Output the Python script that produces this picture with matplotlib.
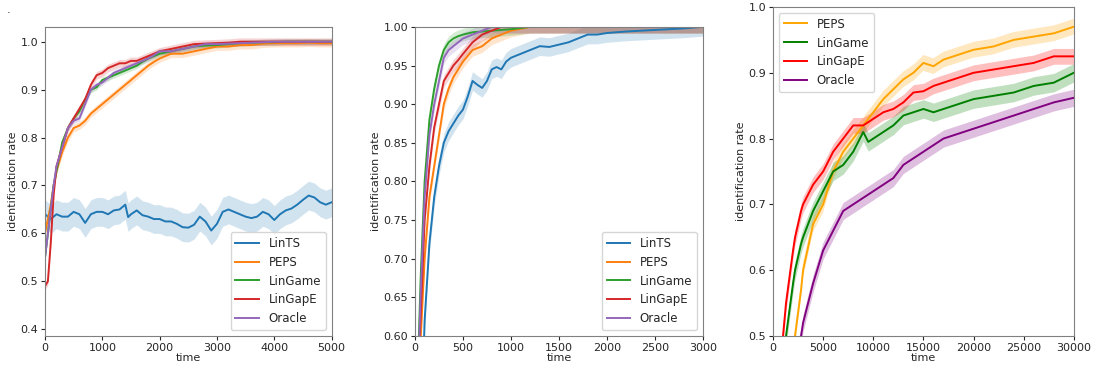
import matplotlib
matplotlib.use("Agg")
import matplotlib.pyplot as plt
import numpy as np

# ---- panel 1 (t up to 5000) ----
t1 = [0, 50, 100, 150, 200, 300, 400, 500, 600, 700, 800, 900, 1000, 1100, 1200, 1300, 1400,
      1500, 1600, 1700, 1800, 1900, 2000, 2200, 2400, 2600, 2800, 3000, 3200, 3400, 3600,
      3800, 4000, 4200, 4400, 4600, 4800, 5000]
peps1 = [0.60, 0.63, 0.66, 0.70, 0.73, 0.77, 0.80, 0.82, 0.825, 0.835, 0.85, 0.86, 0.87, 0.88,
         0.89, 0.90, 0.91, 0.92, 0.93, 0.94, 0.95, 0.958, 0.965, 0.975, 0.975, 0.98, 0.985,
         0.99, 0.99, 0.993, 0.993, 0.996, 0.997, 0.997, 0.997, 0.998, 0.997, 0.997]
lingame1 = [0.55, 0.60, 0.65, 0.70, 0.73, 0.79, 0.82, 0.84, 0.855, 0.88, 0.90, 0.905, 0.92,
            0.925, 0.93, 0.935, 0.94, 0.945, 0.95, 0.958, 0.965, 0.97, 0.975, 0.98, 0.985,
            0.99, 0.992, 0.993, 0.995, 0.997, 0.998, 0.999, 0.999, 1.0, 1.0, 1.0, 1.0, 1.0]
lingape1 = [0.49, 0.50, 0.58, 0.68, 0.74, 0.78, 0.82, 0.84, 0.86, 0.88, 0.91, 0.93, 0.935,
            0.945, 0.95, 0.955, 0.955, 0.96, 0.96, 0.965, 0.97, 0.975, 0.98, 0.985, 0.99,
            0.995, 0.996, 0.997, 0.998, 1.0, 1.0, 1.0, 1.0, 1.0, 1.0, 1.0, 1.0, 1.0]
oracle1 = [0.55, 0.60, 0.65, 0.70, 0.74, 0.78, 0.82, 0.835, 0.84, 0.87, 0.90, 0.91, 0.915,
           0.925, 0.935, 0.94, 0.945, 0.95, 0.955, 0.96, 0.965, 0.972, 0.98, 0.98, 0.985,
           0.99, 0.995, 0.995, 0.996, 0.997, 0.998, 0.999, 1.0, 1.0, 1.0, 1.0, 1.0, 1.0]
t1_ts = [0, 100, 200, 300, 400, 500, 600, 700, 800, 900, 1000, 1100, 1200, 1300, 1400, 1450,
         1500, 1600, 1700, 1800, 1900, 2000, 2100, 2200, 2300, 2400, 2500, 2600, 2700, 2800,
         2900, 3000, 3100, 3200, 3300, 3400, 3500, 3600, 3700, 3800, 3900, 4000, 4100, 4200,
         4300, 4400, 4500, 4600, 4700, 4800, 4900, 5000]
lints1 = [0.64, 0.63, 0.64, 0.635, 0.635, 0.645, 0.64, 0.622, 0.64, 0.645, 0.645, 0.64, 0.648,
          0.65, 0.66, 0.634, 0.64, 0.648, 0.638, 0.635, 0.63, 0.63, 0.625, 0.625, 0.62, 0.613,
          0.612, 0.618, 0.635, 0.625, 0.606, 0.62, 0.645, 0.65, 0.645, 0.64, 0.635, 0.632, 0.635,
          0.645, 0.64, 0.628, 0.64, 0.648, 0.652, 0.66, 0.67, 0.679, 0.675, 0.665, 0.66, 0.665]

# ---- panel 2 (t up to 3000) ----
t2_ts = [90, 100, 150, 200, 250, 300, 350, 400, 450, 500, 550, 600, 650, 700, 750, 800, 850,
         900, 950, 1000, 1100, 1200, 1300, 1400, 1500, 1600, 1700, 1800, 1900, 2000, 2200,
         2500, 2800, 3000]
lints2 = [0.58, 0.62, 0.72, 0.78, 0.82, 0.85, 0.865, 0.875, 0.885, 0.893, 0.91, 0.93, 0.925,
          0.921, 0.93, 0.945, 0.948, 0.945, 0.955, 0.96, 0.965, 0.97, 0.975, 0.974, 0.977, 0.98,
          0.985, 0.99, 0.99, 0.992, 0.994, 0.996, 0.998, 1.0]
t2 = [40, 50, 60, 100, 150, 200, 250, 300, 350, 400, 450, 500, 600, 700, 800, 900, 1000, 1200,
      1500, 2000, 2500, 3000]
peps2 = [0.55, 0.57, 0.60, 0.70, 0.78, 0.82, 0.86, 0.90, 0.92, 0.935, 0.945, 0.955, 0.97, 0.975,
         0.985, 0.99, 0.995, 1.0, 1.0, 1.0, 1.0, 1.0]
lingame2 = [0.60, 0.64, 0.68, 0.80, 0.88, 0.92, 0.95, 0.97, 0.98, 0.985, 0.988, 0.99, 0.993,
            0.994, 0.995, 0.996, 0.997, 1.0, 1.0, 1.0, 1.0, 1.0]
lingape2 = [0.55, 0.60, 0.63, 0.75, 0.82, 0.87, 0.90, 0.93, 0.94, 0.95, 0.957, 0.965, 0.98, 0.99,
            0.995, 1.0, 1.0, 1.0, 1.0, 1.0, 1.0, 1.0]
oracle2 = [0.58, 0.62, 0.66, 0.78, 0.86, 0.90, 0.93, 0.96, 0.97, 0.975, 0.98, 0.985, 0.99, 0.995,
           1.0, 1.0, 1.0, 1.0, 1.0, 1.0, 1.0, 1.0]

# ---- panel 3 (t up to 30000) ----
t3 = [1000, 1300, 2000, 2200, 2800, 3000, 4000, 5000, 6000, 7000, 8000, 9000, 9500, 10000,
      11000, 12000, 13000, 14000, 15000, 16000, 17000, 18000, 19000, 20000, 22000, 24000,
      26000, 28000, 30000]
lingape3 = [0.50, 0.55, 0.63, 0.65, 0.69, 0.70, 0.73, 0.75, 0.78, 0.80, 0.82, 0.82, 0.825, 0.83,
            0.84, 0.845, 0.855, 0.87, 0.872, 0.88, 0.885, 0.89, 0.895, 0.90, 0.905, 0.91,
            0.915, 0.925, 0.925]
lingame3 = [0.44, 0.50, 0.58, 0.60, 0.64, 0.65, 0.69, 0.72, 0.75, 0.76, 0.78, 0.81, 0.795, 0.80,
            0.81, 0.82, 0.835, 0.84, 0.845, 0.84, 0.845, 0.85, 0.855, 0.86, 0.865, 0.87,
            0.88, 0.885, 0.90]
peps3 = [0.38, 0.42, 0.48, 0.50, 0.57, 0.60, 0.67, 0.70, 0.75, 0.78, 0.80, 0.82, 0.83, 0.84,
         0.86, 0.875, 0.89, 0.90, 0.915, 0.91, 0.92, 0.925, 0.93, 0.935, 0.94, 0.95, 0.955,
         0.96, 0.97]
oracle3 = [0.34, 0.38, 0.44, 0.46, 0.50, 0.52, 0.58, 0.63, 0.66, 0.69, 0.70, 0.71, 0.715, 0.72,
           0.73, 0.74, 0.76, 0.77, 0.78, 0.79, 0.80, 0.805, 0.81, 0.815, 0.825, 0.835, 0.845,
           0.855, 0.862]

plt.rcParams['font.size'] = 8
plt.rcParams['text.color'] = '0.15'
plt.rcParams['axes.labelcolor'] = '0.15'
plt.rcParams['xtick.color'] = '0.15'
plt.rcParams['ytick.color'] = '0.15'
plt.rcParams['xtick.major.size'] = 3
plt.rcParams['ytick.major.size'] = 3
plt.rcParams['xtick.major.pad'] = 2
plt.rcParams['ytick.major.pad'] = 2

fig = plt.figure(figsize=(10.98, 3.68), dpi=100)
fig.text(0.006, 0.965, ".", fontsize=8)

ax1 = fig.add_axes([0.041, 0.087, 0.261, 0.840])
ax2 = fig.add_axes([0.378, 0.087, 0.262, 0.840])
ax3 = fig.add_axes([0.704, 0.087, 0.274, 0.894])


def band(ax, t, y, err, color, label, alpha=0.2):
    y = np.array(y)
    ax.plot(t, y, color=color, lw=1.4, label=label)
    ax.fill_between(t, y - err, y + err, color=color, alpha=alpha, lw=0)


band(ax1, t1_ts, lints1, 0.03, "tab:blue", "LinTS")
band(ax1, t1, peps1, 0.008, "tab:orange", "PEPS")
band(ax1, t1, lingame1, 0.006, "tab:green", "LinGame")
band(ax1, t1, lingape1, 0.008, "tab:red", "LinGapE")
band(ax1, t1, oracle1, 0.006, "tab:purple", "Oracle")
ax1.set_xlim(0, 5000)
ax1.set_ylim(0.386, 1.031)
ax1.set_yticks([0.4, 0.5, 0.6, 0.7, 0.8, 0.9, 1.0])
ax1.legend(loc="lower right", fontsize=8.5)

band(ax2, t2_ts, lints2, 0.012, "tab:blue", "LinTS")
band(ax2, t2, peps2, 0.008, "tab:orange", "PEPS")
band(ax2, t2, lingame2, 0.008, "tab:green", "LinGame")
band(ax2, t2, lingape2, 0.008, "tab:red", "LinGapE")
band(ax2, t2, oracle2, 0.008, "tab:purple", "Oracle")
ax2.set_xlim(0, 3000)
ax2.set_ylim(0.6, 1.0)
ax2.legend(loc="lower right", fontsize=8.5)

band(ax3, t3, peps3, 0.012, "orange", "PEPS", 0.25)
band(ax3, t3, lingame3, 0.014, "green", "LinGame", 0.25)
band(ax3, t3, lingape3, 0.012, "red", "LinGapE", 0.25)
band(ax3, t3, oracle3, 0.013, "purple", "Oracle", 0.25)
ax3.set_xlim(0, 30000)
ax3.set_ylim(0.5, 1.0)
ax3.set_yticks([0.5, 0.6, 0.7, 0.8, 0.9, 1.0])
ax3.legend(loc="upper left", fontsize=8.5)

for ax in (ax1, ax2, ax3):
    ax.set_xlabel("time", labelpad=0)
    ax.set_ylabel("identification rate", labelpad=2)
    for s in ax.spines.values():
        s.set_color("0.5")

fig.savefig("out.png", dpi=100)
